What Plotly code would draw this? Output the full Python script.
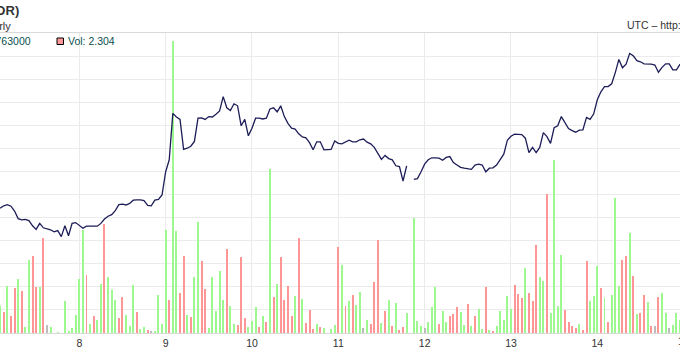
import pandas as pd
import plotly.graph_objects as go

# ---------------- data ----------------
start_time = "2014-03-07 02:00"   # first visible hourly bar

# hourly volume (BTC)
volume = [
    1.18, 0.90, 2.05, 0.75, 1.94, 2.35, 1.83, 0.27, 3.18, 3.35,
    1.98, 1.98, 4.13, 0.36, 0.27, 0.00, 0.06, 0.00, 1.40, 0.10,
    0.23, 0.79, 2.35, 4.48, 2.53, 0.40, 0.75, 0.58, 2.14, 4.74,
    2.44, 1.88, 1.44, 0.66, 1.57, 0.79, 0.32, 2.09, 0.92, 0.19,
    0.27, 0.14, 0.10, 0.10, 1.66, 0.40, 4.46, 1.44, 12.65, 4.43,
    1.75, 3.35, 0.79, 0.71, 2.44, 4.82, 3.13, 1.92, 0.23, 2.44,
    0.97, 2.70, 1.44, 3.65, 1.18, 0.40, 0.36, 3.31, 0.66, 0.27,
    0.53, 1.14, 0.27, 0.75, 0.49, 7.11, 1.57, 2.14, 3.31, 1.44,
    2.05, 0.75, 1.62, 4.13, 1.49, 0.45, 1.01, 0.19, 0.40, 0.27,
    0.23, 0.00, 0.19, 0.36, 3.74, 2.96, 1.18, 1.40, 1.66, 1.23,
    1.79, 0.23, 0.58, 0.40, 2.22, 4.04, 0.45, 0.97, 1.44, 0.32,
    1.31, 0.14, 0.27, 0.88, 0.00, 4.98, 0.53, 0.32, 0.23, 0.49,
    1.14, 2.01, 0.40, 0.97, 0.49, 0.75, 0.84, 1.14, 0.92, 0.36,
    1.27, 0.32, 0.75, 1.05, 0.19, 2.01, 0.14, 0.10, 0.32, 0.97,
    0.58, 1.62, 1.05, 2.09, 1.70, 1.53, 2.83, 1.75, 1.40, 3.83,
    2.44, 2.27, 6.02, 0.88, 7.50, 1.18, 3.39, 1.01, 0.49, 0.29,
    0.23, 0.40, 0.14, 3.13, 1.40, 1.62, 2.92, 1.96, 1.53, 0.49,
    1.66, 5.86, 2.05, 3.18, 3.35, 4.35, 2.48, 0.84, 0.88, 1.66,
    1.36, 0.32, 0.32, 1.57, 1.75, 0.88, 0.23, 0.36, 0.88, 0.58,
]

# bar direction: g = up, r = down, n = unchanged
direction = (
    "grgrrgrggr" "rgrngggggg" "ggggrgrggr" "gggrrgggrg" "grnggggrgg"
    "rrgrggrrgg" "gggrggrrrg" "ggrgrgrgrr" "rrgrgrrrgr" "ggggrgrgrg"
    "gngrrrgrgr" "grrgggggng" "ggrggrrrgg" "rgrggrgrgg" "gggrrrgrrr"
    "ggrggggrrr" "rgrrgggrgr" "gggrrgrgrr" "grnrggnggg"
)

# hourly close price (thousand IDR); None = no trade
price_k = [
    7402, 7408, 7411, 7407, 7395, 7376, 7373, 7374, 7371, 7358,
    7349, 7364, 7353, 7350, 7348, 7343, 7346, 7331, 7358, 7333,
    7364, 7366, 7360, 7352, 7357, 7357, 7356, 7357, 7364, 7375,
    7382, 7386, 7396, 7411, 7412, 7410, 7414, 7422, 7423, 7423,
    7421, 7409, 7408, 7422, 7424, 7435, 7493, 7523, 7639, 7630,
    7624, 7549, 7552, 7557, 7569, 7627, 7628, 7624, 7631, 7630,
    7637, 7645, 7681, 7653, 7646, 7663, 7658, 7608, 7624, 7583,
    7602, 7627, 7627, 7625, 7627, 7650, 7653, 7643, 7658, 7631,
    7614, 7602, 7600, 7588, 7580, 7578, 7566, 7548, 7568, 7568,
    7548, 7548, 7549, 7570, 7564, 7563, 7567, 7572, 7568, 7568,
    7573, 7575, 7567, 7563, 7554, 7537, 7524, 7534, 7526, 7523,
    7508, 7506, 7470, 7508, None, 7474, 7476, 7493, 7512, 7523,
    7528, 7528, 7527, 7522, 7529, 7531, 7516, 7510, 7504, 7502,
    7501, 7499, 7510, 7512, 7510, 7493, 7502, 7503, 7510, 7522,
    7537, 7572, 7582, 7587, 7587, 7586, 7577, 7541, 7554, 7541,
    7554, 7591, 7581, 7564, 7603, 7608, 7631, 7617, 7601, 7596,
    7592, 7597, 7598, 7629, 7624, 7638, 7673, 7693, 7706, 7706,
    7713, 7741, 7774, 7753, 7762, 7789, 7783, 7771, 7768, 7763,
    7763, 7762, 7760, 7742, 7754, 7763, 7763, 7748, 7748, 7762,
]

title_text = "bitcoin.co.id (IDR)"
subtitle_text = "Hourly"
legend_close = "Close: 7763000"
legend_vol = "Vol: 2.304"
credit_text = "UTC \u2013 http://bitcoincharts.com"

# ---------------- figure ----------------
W, H = 680, 357
T, B = 33, 24
PH = H - T - B

def px_x(x):
    return x / W

def px_y(y):
    return (H - B - y) / PH

times = pd.date_range(start_time, periods=len(volume), freq="h")
color_map = {"g": "#9cf88f", "r": "#ff9696", "n": "#bcbcbc"}
bar_colors = [color_map[c] for c in direction]

FONT = "Liberation Sans, Arial, sans-serif"

fig = go.Figure()
fig.add_trace(go.Bar(
    x=times, y=volume, width=2.0e6,
    marker=dict(color=bar_colors, line=dict(width=0)),
    yaxis="y", hoverinfo="skip",
))
fig.add_trace(go.Scatter(
    x=times, y=price_k, mode="lines", connectgaps=False,
    line=dict(color="#1d1d58", width=1.3),
    yaxis="y2", hoverinfo="skip",
))

fig.update_layout(
    template="none",
    width=W, height=H,
    margin=dict(l=0, r=0, t=T, b=B, pad=0, autoexpand=False),
    paper_bgcolor="white", plot_bgcolor="white",
    showlegend=False,
    bargap=0,
    font=dict(family=FONT, color="#333333"),
    xaxis=dict(
        type="date", automargin=False,
        range=["2014-03-07 01:57:18", "2014-03-14 22:59:24"],
        tick0="2014-03-08", dtick=86400000, tickformat="%-d",
        showgrid=True, gridcolor="#ebebeb", gridwidth=1,
        showline=True, linecolor="#d9d9d9", linewidth=1, mirror=True,
        ticks="", tickfont=dict(size=10.5, color="#333333", family=FONT),
        zeroline=False, fixedrange=True,
    ),
    yaxis=dict(
        range=[0, 13], dtick=1, tick0=0, automargin=False,
        showgrid=True, gridcolor="#ebebeb", gridwidth=1,
        showticklabels=False, zeroline=False, ticks="", fixedrange=True,
    ),
    yaxis2=dict(
        range=[7090, 7840], overlaying="y", side="right", automargin=False,
        visible=False, showgrid=False, zeroline=False, fixedrange=True,
    ),
)

ann = [
    dict(text="<b>" + title_text + "</b>", x=px_x(21), y=px_y(10), xanchor="right",
         yanchor="middle", font=dict(size=13, color="#333333", family=FONT)),
    dict(text=subtitle_text, x=px_x(13), y=px_y(26), xanchor="right",
         yanchor="middle", font=dict(size=11, color="#333333", family=FONT)),
    dict(text=legend_close, x=px_x(33), y=px_y(41), xanchor="right",
         yanchor="middle", font=dict(size=10.5, color="#0b4f4f", family=FONT)),
    dict(text=legend_vol, x=px_x(66), y=px_y(41), xanchor="left",
         yanchor="middle", font=dict(size=10.5, color="#0b4f4f", family=FONT)),
    dict(text=credit_text, x=px_x(625), y=px_y(24.5), xanchor="left",
         yanchor="middle", font=dict(size=10.5, color="#333333", family=FONT)),
    dict(text="15", x=px_x(683.6), y=px_y(341), xanchor="center",
         yanchor="middle", font=dict(size=10.5, color="#333333", family=FONT)),
]
for a in ann:
    a.update(xref="paper", yref="paper", showarrow=False)
fig.update_layout(annotations=ann)

fig.add_shape(type="rect", xref="paper", yref="paper",
              x0=px_x(57), x1=px_x(63.5), y0=px_y(44.5), y1=px_y(38),
              fillcolor="#ff9999", line=dict(color="#000000", width=1))

fig.write_html(
    "out.html",
    config={"displayModeBar": False, "staticPlot": True},
    post_script="document.body.style.margin='0';document.body.style.overflow='hidden';",
)
